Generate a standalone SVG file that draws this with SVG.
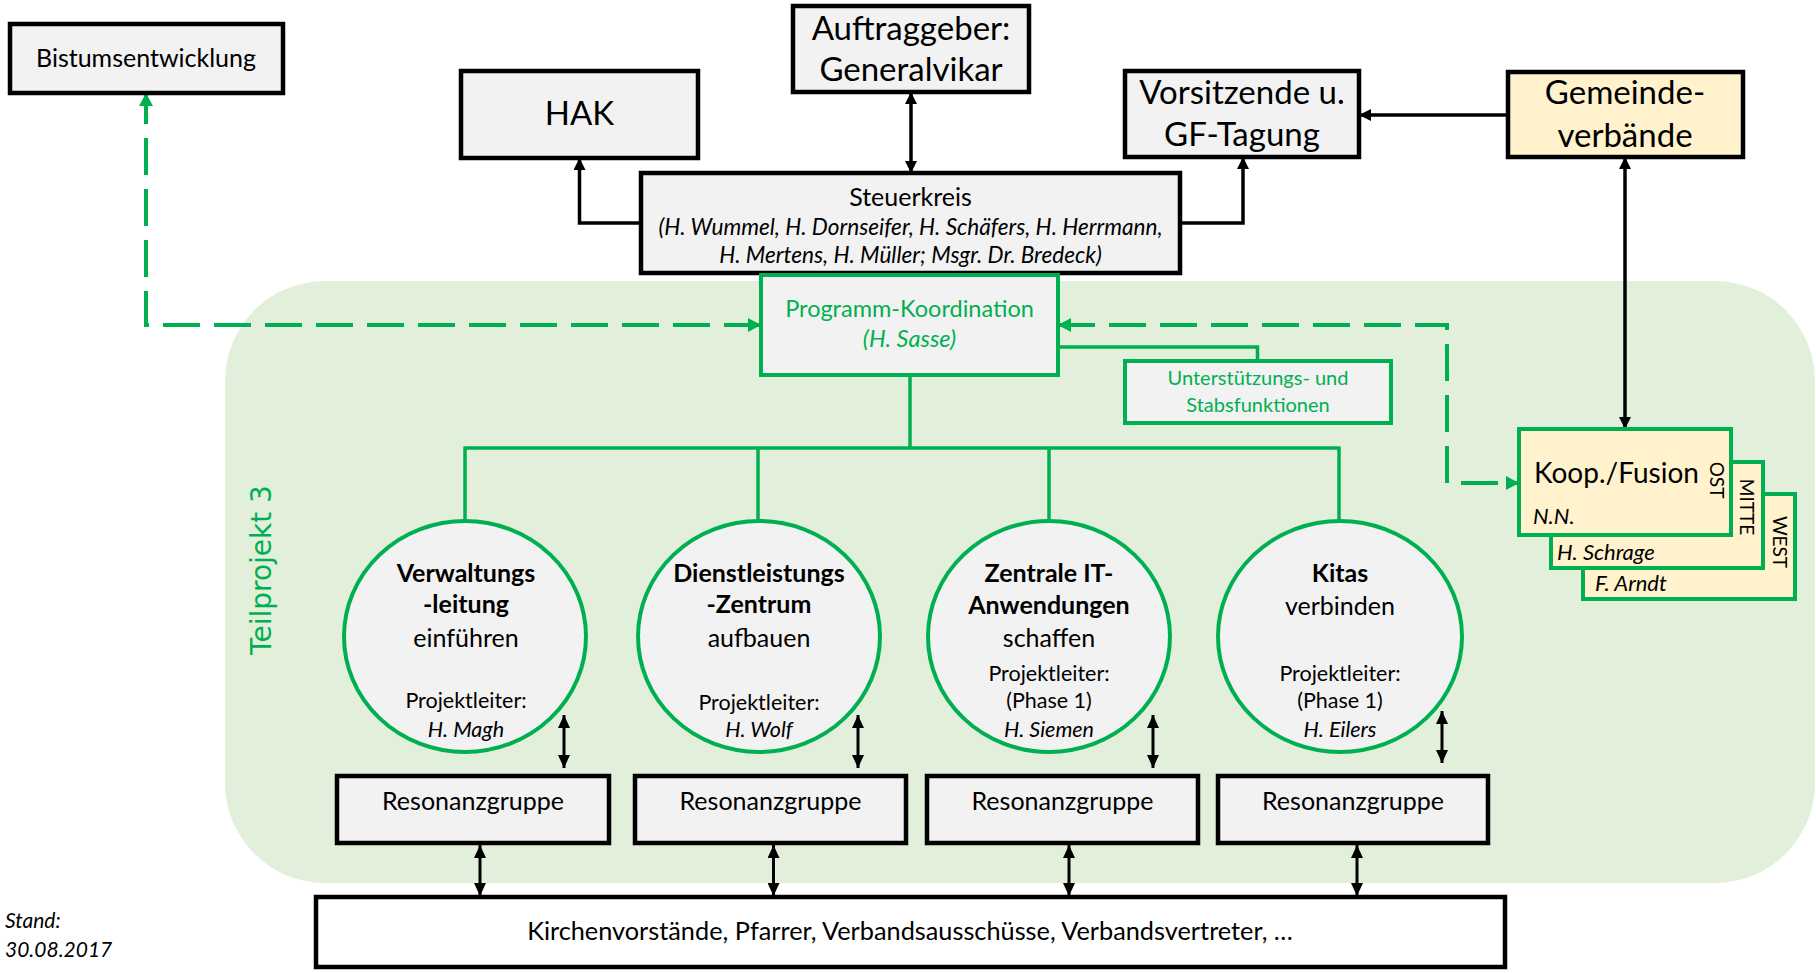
<svg xmlns="http://www.w3.org/2000/svg" width="1816" height="973" viewBox="0 0 1816 973">
<style>
text{font-family:Lato,"Open Sans","Liberation Sans",sans-serif;fill:#000}
.c{text-anchor:middle}
.i{font-style:italic}
.b{font-weight:bold}
.g{fill:#00b050}
.bx{fill:#f2f2f2;stroke:#000;stroke-width:4.5}
.gb{fill:#f2f2f2;stroke:#00b050;stroke-width:4}
.yb{fill:#fff2cc;stroke:#00b050;stroke-width:4}
.ln{fill:none;stroke:#000;stroke-width:3.5}
.sl{fill:none;stroke:#000;stroke-width:3}
.gl{fill:none;stroke:#00b050;stroke-width:3.5}
.gd{fill:none;stroke:#00b050;stroke-width:4;stroke-dasharray:37 14}
.big{font-size:33px}
.m{font-size:25px}
.s{font-size:21.5px}
</style>
<defs>
<marker id="ab" markerUnits="userSpaceOnUse" markerWidth="12" markerHeight="12" refX="12" refY="6" orient="auto-start-reverse"><path d="M0,0 L12,6 L0,12 z" fill="#000"/></marker>
<marker id="as" markerUnits="userSpaceOnUse" markerWidth="13" markerHeight="12" refX="13" refY="6" orient="auto-start-reverse"><path d="M0,0 L13,6 L0,12 z" fill="#000"/></marker>
<marker id="ag" markerUnits="userSpaceOnUse" markerWidth="13" markerHeight="14" refX="13" refY="7" orient="auto-start-reverse"><path d="M0,0 L13,7 L0,14 z" fill="#00b050"/></marker>
</defs>

<rect id="teilprojekt-bg" x="225" y="281" width="1590" height="602" rx="100" ry="100" fill="#e2efda"/>
<text id="teilprojekt-label" transform="translate(271,570) rotate(-90)" class="c g" style="font-family:'DejaVu Sans',sans-serif;font-size:28px">Teilprojekt 3</text>

<g id="connectors">
<path class="gd" d="M761,325 H146 V93" marker-start="url(#ag)" marker-end="url(#ag)"/>
<path class="gd" d="M1058,325 H1447 V483 H1519" marker-start="url(#ag)" marker-end="url(#ag)"/>
<path class="ln" d="M911,92 V173" marker-start="url(#ab)" marker-end="url(#ab)"/>
<path class="ln" d="M641,223 H579.5 V158" marker-end="url(#ab)"/>
<path class="ln" d="M1180,223 H1243 V157" marker-end="url(#ab)"/>
<path class="ln" d="M1508,115 H1359" marker-end="url(#ab)"/>
<path class="ln" d="M1625,157 V429" marker-start="url(#ab)" marker-end="url(#ab)"/>
<path class="gl" d="M1058,347 H1257.5 V361"/>
<path class="gl" d="M910,375 V448 M465,448 H1339 M465,446.5 V521 M758,446.5 V521 M1049,446.5 V521 M1339,446.5 V521"/>
<path class="sl" d="M564,715 V768" marker-start="url(#as)" marker-end="url(#as)"/>
<path class="sl" d="M858,715 V768" marker-start="url(#as)" marker-end="url(#as)"/>
<path class="sl" d="M1153,715 V768" marker-start="url(#as)" marker-end="url(#as)"/>
<path class="sl" d="M1442,711 V763" marker-start="url(#as)" marker-end="url(#as)"/>
<path class="sl" d="M480,845 V896" marker-start="url(#as)" marker-end="url(#as)"/>
<path class="sl" d="M773.5,845 V896" marker-start="url(#as)" marker-end="url(#as)"/>
<path class="sl" d="M1069,845 V896" marker-start="url(#as)" marker-end="url(#as)"/>
<path class="sl" d="M1357,845 V896" marker-start="url(#as)" marker-end="url(#as)"/>
</g>

<g id="bistum">
<rect class="bx" x="10" y="24" width="273" height="69"/>
<text class="c" x="146" y="67" style="font-size:25px">Bistumsentwicklung</text>
</g>
<g id="hak">
<rect class="bx" x="461" y="71" width="237" height="87"/>
<text class="c big" x="579.5" y="125">HAK</text>
</g>
<g id="auftraggeber">
<rect class="bx" x="793" y="6" width="236" height="86"/>
<text class="c big" x="911" y="40">Auftraggeber:</text>
<text class="c big" x="911" y="81">Generalvikar</text>
</g>
<g id="vorsitzende">
<rect class="bx" x="1125" y="71" width="234" height="86"/>
<text class="c big" x="1242" y="104">Vorsitzende u.</text>
<text class="c big" x="1242" y="146">GF-Tagung</text>
</g>
<g id="gemeindeverbaende">
<rect class="bx" x="1508" y="72" width="235" height="85" style="fill:#fff2cc"/>
<text class="c big" x="1625" y="104">Gemeinde-</text>
<text class="c big" x="1625" y="147">verbände</text>
</g>
<g id="steuerkreis">
<rect class="bx" x="641" y="173" width="539" height="100"/>
<text class="c m" x="910.5" y="206">Steuerkreis</text>
<text class="c i" x="910.5" y="235" style="font-size:22.6px">(H. Wummel, H. Dornseifer, H. Schäfers, H. Herrmann,</text>
<text class="c i" x="910.5" y="263" style="font-size:22.6px">H. Mertens, H. Müller; Msgr. Dr. Bredeck)</text>
</g>
<g id="programm-koordination">
<rect class="gb" x="761" y="275" width="297" height="100"/>
<text class="c g" x="909.5" y="317" style="font-size:23.5px">Programm-Koordination</text>
<text class="c g i" x="909.5" y="347" style="font-size:23.5px">(H. Sasse)</text>
</g>
<g id="unterstuetzung">
<rect class="gb" x="1125" y="361" width="266" height="62"/>
<text class="c g" x="1258" y="385" style="font-size:20px">Unterstützungs- und</text>
<text class="c g" x="1258" y="412" style="font-size:20px">Stabsfunktionen</text>
</g>

<g id="verwaltungsleitung">
<ellipse class="gb" cx="465" cy="636.5" rx="121" ry="115.5"/>
<text class="c b m" x="466" y="582">Verwaltungs</text>
<text class="c b m" x="466" y="613">-leitung</text>
<text class="c m" x="466" y="647">einführen</text>
<text class="c s" x="466" y="708">Projektleiter:</text>
<text class="c s i" x="466" y="737">H. Magh</text>
</g>
<g id="dienstleistungszentrum">
<ellipse class="gb" cx="759" cy="636.5" rx="121" ry="115.5"/>
<text class="c b m" x="759" y="582">Dienstleistungs</text>
<text class="c b m" x="759" y="613">-Zentrum</text>
<text class="c m" x="759" y="647">aufbauen</text>
<text class="c s" x="759" y="710">Projektleiter:</text>
<text class="c s i" x="759" y="737">H. Wolf</text>
</g>
<g id="it-anwendungen">
<ellipse class="gb" cx="1049" cy="636.5" rx="121" ry="115.5"/>
<text class="c b m" x="1049" y="582">Zentrale IT-</text>
<text class="c b m" x="1049" y="614">Anwendungen</text>
<text class="c m" x="1049" y="647">schaffen</text>
<text class="c s" x="1049" y="681">Projektleiter:</text>
<text class="c s" x="1049" y="708">(Phase 1)</text>
<text class="c s i" x="1049" y="737">H. Siemen</text>
</g>
<g id="kitas">
<ellipse class="gb" cx="1340" cy="636.5" rx="122" ry="115.5"/>
<text class="c b m" x="1340" y="582">Kitas</text>
<text class="c m" x="1340" y="615">verbinden</text>
<text class="c s" x="1340" y="681">Projektleiter:</text>
<text class="c s" x="1340" y="708">(Phase 1)</text>
<text class="c s i" x="1340" y="737">H. Eilers</text>
</g>

<g id="resonanz-1"><rect class="bx" x="337" y="776" width="272" height="67"/><text class="c m" x="473" y="810">Resonanzgruppe</text></g>
<g id="resonanz-2"><rect class="bx" x="635" y="776" width="271" height="67"/><text class="c m" x="770.5" y="810">Resonanzgruppe</text></g>
<g id="resonanz-3"><rect class="bx" x="927" y="776" width="271" height="67"/><text class="c m" x="1062.5" y="810">Resonanzgruppe</text></g>
<g id="resonanz-4"><rect class="bx" x="1218" y="776" width="270" height="67"/><text class="c m" x="1353" y="810">Resonanzgruppe</text></g>

<g id="kooperation">
<rect class="yb" x="1583" y="494" width="212" height="105"/>
<rect class="yb" x="1551" y="462" width="212" height="106"/>
<rect class="yb" x="1519" y="429" width="212" height="106"/>
<text x="1534" y="483" style="font-size:28px">Koop./Fusion</text>
<text class="i" x="1533" y="524" style="font-size:22px">N.N.</text>
<text class="i" x="1557" y="560" style="font-size:22px">H. Schrage</text>
<text class="i" x="1595" y="591" style="font-size:22px">F. Arndt</text>
<text class="c" transform="translate(1710,480) rotate(90)" style="font-size:19px">OST</text>
<text class="c" transform="translate(1740,507) rotate(90)" style="font-size:19px">MITTE</text>
<text class="c" transform="translate(1773,542) rotate(90)" style="font-size:19px">WEST</text>
</g>

<g id="kirchenvorstaende">
<rect class="bx" x="316" y="897" width="1189" height="70" style="fill:#fff"/>
<text class="c" x="910" y="940" style="font-size:25.3px">Kirchenvorstände, Pfarrer, Verbandsausschüsse, Verbandsvertreter, …</text>
</g>

<g id="stand">
<text class="i" x="5" y="928" style="font-size:21px">Stand:</text>
<text class="i" x="5" y="957" style="font-size:21px">30.08.2017</text>
</g>
</svg>
